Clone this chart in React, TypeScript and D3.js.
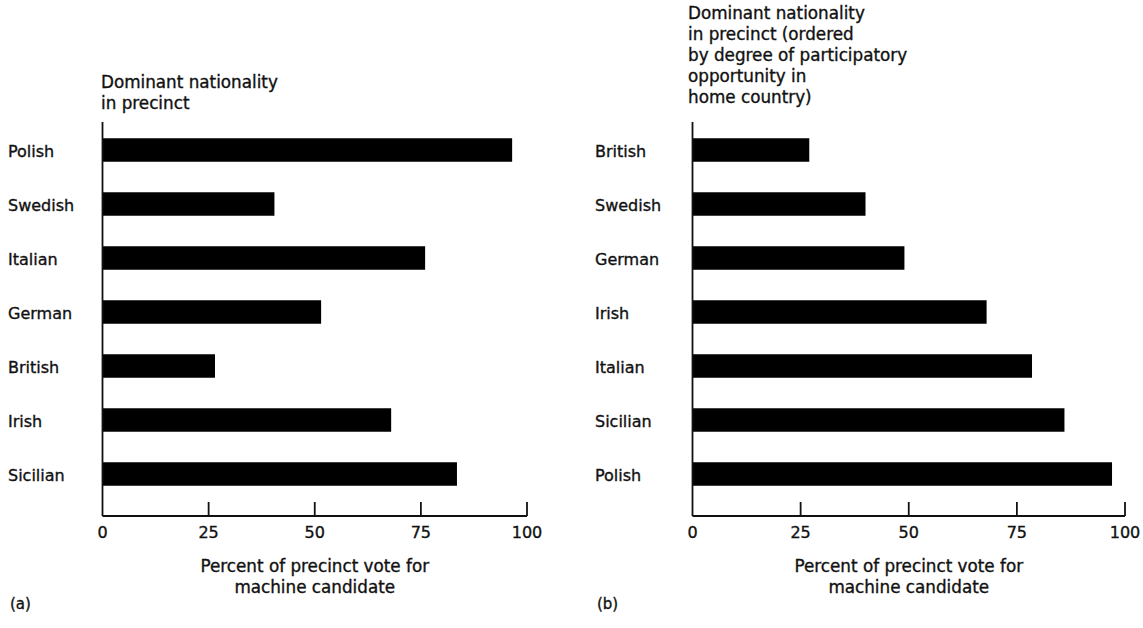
import React from "react";
import * as d3 from "d3";

// Panel (a): precincts listed in survey order
const categoriesA = ["Polish", "Swedish", "Italian", "German", "British", "Irish", "Sicilian"];
const valuesA = [96.5, 40.5, 76, 51.5, 26.5, 68, 83.5];

// Panel (b): precincts ordered by participatory opportunity in home country
const categoriesB = ["British", "Swedish", "German", "Irish", "Italian", "Sicilian", "Polish"];
const valuesB = [27, 40, 49, 68, 78.5, 86, 97];

const tickValues = [0, 25, 50, 75, 100];

const titleA = ["Dominant nationality", "in precinct"];
const titleB = [
  "Dominant nationality",
  "in precinct (ordered",
  "by degree of participatory",
  "opportunity in",
  "home country)",
];
const axisTitle = ["Percent of precinct vote for", "machine candidate"];

const WIDTH = 1143;
const HEIGHT = 628;
const FONT = "'DejaVu Sans', Verdana, sans-serif";
const INK = "#111";

type PanelProps = {
  categories: string[];
  values: number[];
  title: string[];
  tag: string;
  x0: number;
  x1: number;
  labelX: number;
  titleX: number;
  titleBottom: number;
};

const AXIS_TOP = 122;
const BASELINE = 516;
const LINE_GAP = 21;

function Panel({ categories, values, title, tag, x0, x1, labelX, titleX, titleBottom }: PanelProps) {
  const x = d3.scaleLinear().domain([0, 100]).range([x0, x1]);
  const y = d3
    .scaleBand<string>()
    .domain(categories)
    .range([AXIS_TOP + 1, 501])
    .paddingInner(0.565)
    .paddingOuter(0.2825);
  const bw = y.bandwidth();
  const mid = (x0 + x1) / 2;

  return (
    <g fontFamily={FONT} fill={INK}>
      <g stroke={INK} strokeWidth={0.35}>
        {title.map((line, i) => (
          <text key={line} x={titleX} y={titleBottom - (title.length - 1 - i) * LINE_GAP} fontSize={16.8}>
            {line}
          </text>
        ))}

        {categories.map((c) => (
          <text key={c} x={labelX} y={y(c)! + bw / 2 + 6.5} fontSize={16}>
            {c}
          </text>
        ))}

        {tickValues.map((t) => (
          <text key={t} x={x(t)} y={BASELINE + 22} fontSize={16} textAnchor="middle">
            {t}
          </text>
        ))}

        {axisTitle.map((line, i) => (
          <text key={line} x={mid} y={572 + i * LINE_GAP} fontSize={16.8} textAnchor="middle">
            {line}
          </text>
        ))}

        <text x={labelX + 2} y={609} fontSize={15}>
          {tag}
        </text>
      </g>

      {categories.map((c, i) => (
        <rect key={c} x={x(0)} y={y(c)!} width={x(values[i]) - x(0)} height={bw} fill="#000" />
      ))}

      {/* vertical axis */}
      <line x1={x(0)} x2={x(0)} y1={AXIS_TOP} y2={BASELINE} stroke={INK} strokeWidth={1.8} />
      {/* horizontal axis with upward ticks */}
      <line x1={x(0)} x2={x(100)} y1={BASELINE} y2={BASELINE} stroke={INK} strokeWidth={2} />
      {tickValues
        .filter((t) => t > 0)
        .map((t) => (
          <line key={t} x1={x(t)} x2={x(t)} y1={BASELINE - 14} y2={BASELINE} stroke={INK} strokeWidth={1.8} />
        ))}
    </g>
  );
}

export default function App() {
  return (
    <div style={{ position: "fixed", left: 0, top: 0, width: WIDTH, height: HEIGHT, background: "#fff" }}>
      <svg width={WIDTH} height={HEIGHT} viewBox={`0 0 ${WIDTH} ${HEIGHT}`} style={{ display: "block" }}>
        <rect width={WIDTH} height={HEIGHT} fill="#fff" />
        <Panel
          categories={categoriesA}
          values={valuesA}
          title={titleA}
          tag="(a)"
          x0={102.5}
          x1={527}
          labelX={8}
          titleX={101}
          titleBottom={109}
        />
        <Panel
          categories={categoriesB}
          values={valuesB}
          title={titleB}
          tag="(b)"
          x0={692.5}
          x1={1125}
          labelX={595}
          titleX={688}
          titleBottom={103}
        />
      </svg>
    </div>
  );
}
